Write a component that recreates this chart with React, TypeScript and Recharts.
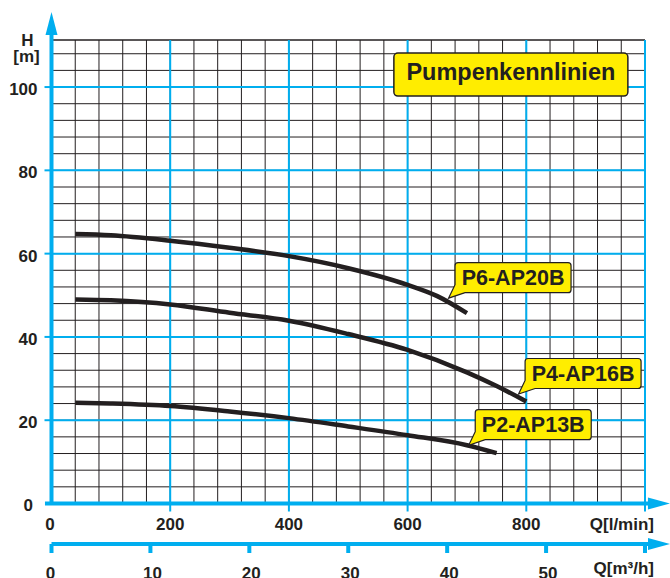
import React from 'react';
import { LineChart, Line, XAxis, YAxis, CartesianGrid, ReferenceLine, ReferenceDot } from 'recharts';

const BLUE = '#00AEEF';
const INK = '#231F20';
const YELLOW = '#FFED00';
const FONT = '"Liberation Sans", Arial, Helvetica, sans-serif';

// Series: flow Q [l/min] and head H [m]
const p6Q = [40, 100, 200, 300, 400, 500, 600, 650, 700];
const p6H = [64.7, 64.4, 63.1, 61.4, 59.4, 56.5, 52.5, 49.8, 45.7];
const p4Q = [40, 100, 200, 300, 400, 500, 600, 700, 750, 800];
const p4H = [49.0, 48.8, 47.8, 45.8, 43.9, 40.7, 36.9, 31.5, 28.2, 24.5];
const p2Q = [40, 100, 200, 300, 400, 500, 600, 700, 750];
const p2H = [24.2, 24.0, 23.4, 22.1, 20.5, 18.5, 16.4, 14.0, 12.1];

const seriesNames = ['P6-AP20B', 'P4-AP16B', 'P2-AP13B'];
const labelQ = [669, 787, 703];
const labelH = [49.3, 26.3, 14.0];

const title = 'Pumpenkennlinien';
const titleQ = 774;
const titleH = 103;

// Axes / grid ticks
const qGridTicks = [0, 40, 80, 120, 160, 200, 240, 280, 320, 360, 400, 440, 480, 520, 560, 600, 640, 680, 720, 760, 800, 840, 880, 920, 960, 1000];
const hGridTicks = [0, 4, 8, 12, 16, 20, 24, 28, 32, 36, 40, 44, 48, 52, 56, 60, 64, 68, 72, 76, 80, 84, 88, 92, 96, 100, 104, 108];
const qMajor = [200, 400, 600, 800, 1000];
const hMajor = [20, 40, 60, 80, 100];
const m3Ticks = [0, 10, 20, 30, 40, 50, 60];
const H_MAX = 111.3;

const toRows = (qs: number[], hs: number[]) => qs.map((q, i) => ({ q, h: hs[i] }));
const p6 = toRows(p6Q, p6H);
const p4 = toRows(p4Q, p4H);
const p2 = toRows(p2Q, p2H);
const m3Rows = m3Ticks.map((m) => ({ m }));

const txt = { fontFamily: FONT, fontWeight: 700, fill: INK } as const;

const QTick = (p: any) => {
  const { x, y, payload } = p;
  const v = payload.value;
  if (v % 200 !== 0) return <g />;
  if (v === 0) {
    return <text x={x - 1.5} y={y + 26} textAnchor="middle" fontSize={17} {...txt}>0</text>;
  }
  if (v === 1000) {
    return (
      <g>
        <line x1={x} x2={x} y1={y} y2={y + 8} stroke={BLUE} strokeWidth={2} />
        <text x={x + 9} y={y + 26} textAnchor="end" fontSize={17} {...txt}>Q[l/min]</text>
      </g>
    );
  }
  return (
    <g>
      <line x1={x} x2={x} y1={y} y2={y + 8} stroke={BLUE} strokeWidth={2} />
      <text x={x} y={y + 26} textAnchor="middle" fontSize={17} {...txt}>{v}</text>
    </g>
  );
};

const M3Tick = (p: any) => {
  const { x, y, payload } = p;
  const v = payload.value;
  if (v === 60) {
    return (
      <g>
        <line x1={x} x2={x} y1={y} y2={y + 9} stroke={BLUE} strokeWidth={4} />
        <line x1={x} x2={x + 6} y1={y} y2={y} stroke={BLUE} strokeWidth={4} />
        <polygon points={`${x + 3},${y - 6} ${x + 25},${y} ${x + 3},${y + 6}`} fill={BLUE} />
        <text x={x + 9} y={y + 30} textAnchor="end" fontSize={17} {...txt}>Q[m³/h]</text>
      </g>
    );
  }
  return (
    <g>
      <line x1={x} x2={x} y1={y} y2={y + 9} stroke={BLUE} strokeWidth={4} />
      <text x={x + (v === 0 ? -1 : 2)} y={y + 35} textAnchor="middle" fontSize={17} {...txt}>{v}</text>
    </g>
  );
};

const HTick = (p: any) => {
  const { x, y, payload } = p;
  const v = payload.value;
  if (v % 20 !== 0) return <g />;
  if (v === 0) {
    return <text x={x - 18.5} y={y + 7} textAnchor="end" fontSize={17} {...txt}>0</text>;
  }
  return (
    <g>
      <line x1={x - 7} x2={x} y1={y} y2={y} stroke={BLUE} strokeWidth={2} />
      <text x={x - 14} y={y + 8} textAnchor="end" fontSize={17} {...txt}>{v}</text>
    </g>
  );
};

const HLabel = () => (
  <g>
    <text x={27.5} y={45.5} textAnchor="middle" fontSize={17} {...txt}>H</text>
    <text x={26.5} y={61.5} textAnchor="middle" fontSize={17} {...txt}>[m]</text>
  </g>
);

const callout = (text: string) => (p: any) => {
  const tx = p.cx;
  const ty = p.cy;
  const L = tx + 6.5;
  const B = ty - 5.5;
  const W = 116;
  const Hh = 30;
  const T = B - Hh;
  const R = L + W;
  const r = 3;
  const d = `M${L + r},${T} H${R - r} Q${R},${T} ${R},${T + r} V${B - r} Q${R},${B} ${R - r},${B} H${L + 10} L${tx},${ty} L${L},${B - 8} V${T + r} Q${L},${T} ${L + r},${T} Z`;
  return (
    <g>
      <path d={d} fill={YELLOW} stroke={INK} strokeWidth={1.2} />
      <text x={L + W / 2} y={B - 7.4} textAnchor="middle" fontSize={21.5} {...txt}>{text}</text>
    </g>
  );
};

const titleBox = (p: any) => {
  const cx = p.cx;
  const cy = p.cy;
  return (
    <g>
      <rect x={cx - 117} y={cy - 21.5} width={234} height={43} rx={4} ry={4} fill={YELLOW} stroke={INK} strokeWidth={1.5} />
      <text x={cx} y={cy + 5.5} textAnchor="middle" fontSize={23.5} {...txt}>{title}</text>
    </g>
  );
};

const yArrow = (p: any) => (
  <polygon points={`${p.cx},${p.cy} ${p.cx + 6},${p.cy + 23} ${p.cx - 6},${p.cy + 23}`} fill={BLUE} />
);
const xArrow = (p: any) => (
  <polygon points={`${p.cx},${p.cy} ${p.cx - 22},${p.cy - 6} ${p.cx - 22},${p.cy + 6}`} fill={BLUE} />
);

export default function App() {
  return (
    <div style={{ position: 'absolute', left: 0, top: 0, width: 670, height: 578, background: '#fff' }}>
      <LineChart width={670} height={578} data={m3Rows} margin={{ top: 40, right: 25, bottom: 0, left: 0 }}>
        <XAxis
          type="number"
          dataKey="q"
          domain={[0, 1000]}
          ticks={qGridTicks}
          interval={0}
          allowDataOverflow
          height={40.5}
          axisLine={false}
          tickLine={false}
          tickSize={0}
          tickMargin={0}
          tick={QTick}
        />
        <XAxis
          xAxisId="m3"
          type="number"
          dataKey="m"
          domain={[0, 60]}
          ticks={m3Ticks}
          interval={0}
          allowDataOverflow
          height={34}
          axisLine={{ stroke: BLUE, strokeWidth: 4 }}
          tickLine={false}
          tickSize={0}
          tickMargin={0}
          tick={M3Tick}
        />
        <YAxis
          type="number"
          domain={[0, H_MAX]}
          ticks={hGridTicks}
          interval={0}
          allowDataOverflow
          width={51.5}
          axisLine={false}
          tickLine={false}
          tickSize={0}
          tickMargin={0}
          tick={HTick}
          label={{ content: HLabel }}
        />
        <CartesianGrid stroke={INK} strokeWidth={1} />
        <ReferenceLine y={H_MAX} stroke={INK} strokeWidth={1} />
        {qMajor.map((v) => (
          <ReferenceLine key={'qv' + v} x={v} stroke={BLUE} strokeWidth={2} />
        ))}
        {hMajor.map((v) => (
          <ReferenceLine key={'hv' + v} y={v} stroke={BLUE} strokeWidth={2} />
        ))}
        <ReferenceLine segment={[{ x: -11, y: 0 }, { x: 1008, y: 0 }]} stroke={BLUE} strokeWidth={4} ifOverflow="visible" />
        <ReferenceLine segment={[{ x: 0, y: 0 }, { x: 0, y: 113 }]} stroke={BLUE} strokeWidth={4} ifOverflow="visible" />
        <ReferenceDot x={0} y={118} r={1} shape={yArrow} ifOverflow="visible" />
        <ReferenceDot x={1042} y={0} r={1} shape={xArrow} ifOverflow="visible" />
        <Line data={p6} dataKey="h" type="monotone" stroke={INK} strokeWidth={4.5} dot={false} activeDot={false} isAnimationActive={false} />
        <Line data={p4} dataKey="h" type="monotone" stroke={INK} strokeWidth={4.5} dot={false} activeDot={false} isAnimationActive={false} />
        <Line data={p2} dataKey="h" type="monotone" stroke={INK} strokeWidth={4.5} dot={false} activeDot={false} isAnimationActive={false} />
        {seriesNames.map((n, i) => (
          <ReferenceDot key={n} x={labelQ[i]} y={labelH[i]} r={1} shape={callout(n)} ifOverflow="visible" />
        ))}
        <ReferenceDot x={titleQ} y={titleH} r={1} shape={titleBox} ifOverflow="visible" />
      </LineChart>
    </div>
  );
}
